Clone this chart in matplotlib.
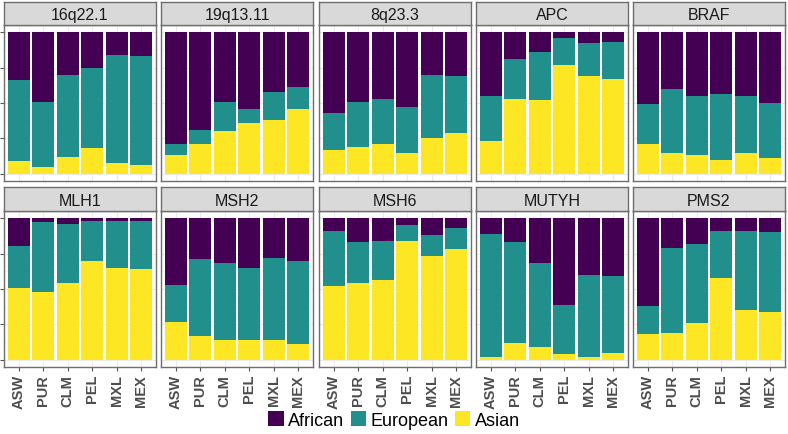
import numpy as np
import matplotlib
matplotlib.use('Agg')
import matplotlib.pyplot as plt
from matplotlib.patches import Patch

plt.rcParams['font.family'] = ['Liberation Sans', 'DejaVu Sans']

# Poblaciones y genes / regiones
populations = ['ASW', 'PUR', 'CLM', 'PEL', 'MXL', 'MEX']
genes = ['16q22.1', '19q13.11', '8q23.3', 'APC', 'BRAF',
         'MLH1', 'MSH2', 'MSH6', 'MUTYH', 'PMS2']

# Proporciones de ancestria por gen (orden de populations)
asian = {
    '16q22.1':  [0.09, 0.05, 0.12, 0.18, 0.08, 0.06],
    '19q13.11': [0.13, 0.21, 0.30, 0.36, 0.38, 0.46],
    '8q23.3':   [0.17, 0.19, 0.21, 0.15, 0.25, 0.29],
    'APC':      [0.23, 0.53, 0.52, 0.77, 0.69, 0.67],
    'BRAF':     [0.21, 0.15, 0.13, 0.10, 0.15, 0.11],
    'MLH1':     [0.51, 0.48, 0.54, 0.70, 0.65, 0.64],
    'MSH2':     [0.27, 0.17, 0.14, 0.14, 0.14, 0.11],
    'MSH6':     [0.52, 0.54, 0.56, 0.84, 0.73, 0.78],
    'MUTYH':    [0.02, 0.12, 0.09, 0.04, 0.02, 0.05],
    'PMS2':     [0.18, 0.19, 0.26, 0.58, 0.35, 0.34],
}
european = {
    '16q22.1':  [0.57, 0.46, 0.58, 0.57, 0.76, 0.77],
    '19q13.11': [0.08, 0.10, 0.21, 0.10, 0.20, 0.15],
    '8q23.3':   [0.26, 0.32, 0.32, 0.32, 0.45, 0.40],
    'APC':      [0.32, 0.28, 0.34, 0.19, 0.23, 0.26],
    'BRAF':     [0.28, 0.45, 0.42, 0.46, 0.40, 0.39],
    'MLH1':     [0.29, 0.49, 0.42, 0.28, 0.33, 0.34],
    'MSH2':     [0.26, 0.54, 0.54, 0.51, 0.58, 0.59],
    'MSH6':     [0.39, 0.29, 0.28, 0.11, 0.15, 0.15],
    'MUTYH':    [0.87, 0.71, 0.59, 0.35, 0.58, 0.54],
    'PMS2':     [0.20, 0.60, 0.56, 0.33, 0.56, 0.56],
}
african = {
    '16q22.1':  [0.34, 0.49, 0.30, 0.25, 0.16, 0.17],
    '19q13.11': [0.79, 0.69, 0.49, 0.54, 0.42, 0.39],
    '8q23.3':   [0.57, 0.49, 0.47, 0.53, 0.30, 0.31],
    'APC':      [0.45, 0.19, 0.14, 0.04, 0.08, 0.07],
    'BRAF':     [0.51, 0.40, 0.45, 0.44, 0.45, 0.50],
    'MLH1':     [0.20, 0.03, 0.04, 0.02, 0.02, 0.02],
    'MSH2':     [0.47, 0.29, 0.32, 0.35, 0.28, 0.30],
    'MSH6':     [0.09, 0.17, 0.16, 0.05, 0.12, 0.07],
    'MUTYH':    [0.11, 0.17, 0.32, 0.61, 0.40, 0.41],
    'PMS2':     [0.62, 0.21, 0.18, 0.09, 0.09, 0.10],
}

colors = {'African': '#440154', 'European': '#21908C', 'Asian': '#FDE725'}

W, H = 788, 435
fig = plt.figure(figsize=(W / 100, H / 100), dpi=100)

# Posiciones en pixeles de los paneles
col_left = [4, 161, 319, 476, 633]
col_w = 152
rows = [(3, 26, 182), (188, 212, 368)]  # (strip arriba, panel arriba, panel abajo)
border = '#6E6E6E'

x = np.arange(len(populations))
for i, gene in enumerate(genes):
    r, c = divmod(i, 5)
    s_top, p_top, p_bot = rows[r]
    left = col_left[c] / W

    ax = fig.add_axes([left, 1 - p_bot / H, col_w / W, (p_bot - p_top) / H])
    a = np.array(asian[gene])
    e = np.array(european[gene])
    f = np.array(african[gene])
    ax.bar(x, a, width=0.9, color=colors['Asian'], zorder=2)
    ax.bar(x, e, width=0.9, bottom=a, color=colors['European'], zorder=2)
    ax.bar(x, f, width=0.9, bottom=a + e, color=colors['African'], zorder=2)
    ax.set_xlim(-0.6, 5.6)
    ax.set_ylim(-0.05, 1.05)

    ax.set_yticks([0, 0.25, 0.5, 0.75, 1.0])
    ax.set_yticks(np.arange(0.125, 1, 0.25), minor=True)
    ax.set_xticks(x)
    ax.grid(True, which='major', color='#EBEBEB', lw=0.8, zorder=0)
    ax.grid(True, which='minor', axis='y', color='#F3F3F3', lw=0.5, zorder=0)
    ax.tick_params(which='minor', length=0)
    for sp in ax.spines.values():
        sp.set_color(border)
        sp.set_linewidth(1.0)

    if c == 0:
        ax.tick_params(axis='y', length=3, color='#555555', labelleft=False)
    else:
        ax.tick_params(axis='y', length=0, labelleft=False)
    if r == 1:
        ax.set_xticklabels(populations, rotation=90, fontsize=10.5,
                           fontweight='bold', color='#4D4D4D')
        ax.tick_params(axis='x', length=3, color='#555555', pad=2)
    else:
        ax.tick_params(axis='x', length=0, labelbottom=False)

    # Tira superior con el nombre del gen
    sax = fig.add_axes([left, 1 - p_top / H, col_w / W, (p_top - s_top) / H])
    sax.set_facecolor('#D9D9D9')
    sax.set_xticks([])
    sax.set_yticks([])
    for sp in sax.spines.values():
        sp.set_color(border)
        sp.set_linewidth(1.0)
    sax.text(0.5, 0.45, gene, ha='center', va='center', fontsize=11.5,
             color='#1A1A1A', transform=sax.transAxes)

handles = [Patch(facecolor=colors[k], edgecolor='none') for k in ['African', 'European', 'Asian']]
fig.legend(handles, ['African', 'European', 'Asian'], loc='center',
           bbox_to_anchor=(0.5, 1 - 421 / H), ncol=3, frameon=False,
           fontsize=13, handlelength=0.85, handleheight=0.9,
           handletextpad=0.25, columnspacing=0.35)

fig.savefig('out.png', dpi=100)
